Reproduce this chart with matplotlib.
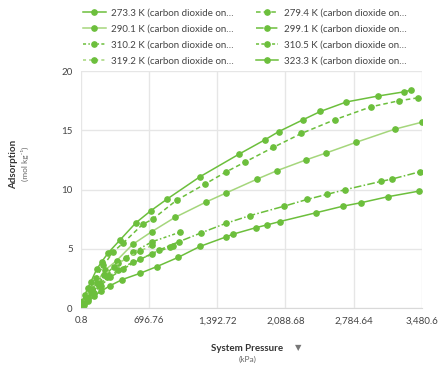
import numpy as np
import matplotlib.pyplot as plt

plt.rcParams['font.family'] = ['Lato', 'DejaVu Sans']

# series (pressure kPa, adsorption mol/kg)
labels = ['273.3 K (carbon dioxide on\u2026', '279.4 K (carbon dioxide on\u2026',
          '290.1 K (carbon dioxide on\u2026', '299.1 K (carbon dioxide on\u2026',
          '310.2 K (carbon dioxide on\u2026', '310.5 K (carbon dioxide on\u2026',
          '319.2 K (carbon dioxide on\u2026', '323.3 K (carbon dioxide on\u2026']

x_273 = [5, 20, 40, 70, 100, 160, 211, 279, 398, 561, 711, 874, 1214, 1615, 1877, 2020, 2268, 2445, 2710, 3033, 3295, 3373]
y_273 = [0.15, 0.6, 1.1, 1.7, 2.2, 3.26, 3.9, 4.67, 5.74, 7.2, 8.2, 9.17, 11.08, 13.0, 14.2, 14.9, 15.9, 16.6, 17.4, 17.9, 18.25, 18.4]

x_279 = [5, 25, 50, 90, 150, 230, 330, 432, 629, 731, 976, 1265, 1479, 1680, 1962, 2251, 2591, 2965, 3247, 3441]
y_279 = [0.12, 0.55, 1.0, 1.6, 2.5, 3.6, 4.75, 5.5, 7.06, 7.5, 9.1, 10.46, 11.48, 12.35, 13.56, 14.74, 15.9, 17.0, 17.5, 17.75]

x_290 = [5, 30, 60, 110, 170, 245, 364, 527, 721, 959, 1282, 1486, 1802, 2002, 2295, 2506, 2812, 3203, 3485]
y_290 = [0.1, 0.5, 0.9, 1.5, 2.3, 3.2, 4.0, 5.37, 6.44, 7.65, 8.97, 9.73, 10.9, 11.6, 12.5, 13.1, 14.0, 15.1, 15.7]

x_299 = [5, 30, 70, 130, 200, 300, 430, 600, 800, 1000, 1231, 1479, 1724, 2074, 2309, 2513, 2700, 3067, 3180, 3458]
y_299 = [0.08, 0.4, 0.8, 1.3, 1.9, 2.6, 3.3, 4.1, 4.9, 5.6, 6.36, 7.15, 7.8, 8.6, 9.17, 9.6, 10.0, 10.7, 10.9, 11.5]

x_310a = [5, 25, 60, 110, 180, 270, 380, 530, 727, 1010]
y_310a = [0.1, 0.5, 1.0, 1.6, 2.3, 3.0, 3.8, 4.7, 5.6, 6.4]

x_310b = [5, 25, 60, 110, 180, 270, 380, 534, 727, 908, 942]
y_310b = [0.08, 0.4, 0.8, 1.3, 1.9, 2.6, 3.2, 3.9, 4.55, 5.15, 5.25]

x_319 = [5, 20, 50, 100, 160, 240, 340, 460, 600, 727]
y_319 = [0.1, 0.45, 0.9, 1.5, 2.1, 2.8, 3.5, 4.2, 4.8, 5.3]

x_323 = [5, 30, 70, 130, 200, 300, 420, 602, 772, 993, 1214, 1479, 1554, 1792, 1904, 2030, 2397, 2675, 2863, 3134, 3450]
y_323 = [0.05, 0.3, 0.6, 1.0, 1.4, 1.9, 2.4, 2.93, 3.49, 4.28, 5.2, 6.0, 6.24, 6.8, 7.03, 7.3, 8.04, 8.6, 8.9, 9.4, 9.87]

xs = [x_273, x_279, x_290, x_299, x_310a, x_310b, x_319, x_323]
ys = [y_273, y_279, y_290, y_299, y_310a, y_310b, y_319, y_323]

xticks = [0.8, 696.76, 1392.72, 2088.68, 2784.64, 3480.6]
xticklabels = ['0.8', '696.76', '1,392.72', '2,088.68', '2,784.64', '3,480.6']
yticks = [0, 5, 10, 15, 20]

green = '#6cbf3c'
light = '#a5d67c'
styles = ['-', (0, (3, 2)), '-', (0, (5, 1.5, 1, 1.5)), (0, (2, 1.5, 1, 1.5)), (0, (2, 1.5)), (0, (2, 2)), '-']
colors = [green, green, light, green, green, green, light, green]

fig = plt.figure(figsize=(4.38, 3.65), dpi=100)
ax = fig.add_axes([0.185, 0.156, 0.778, 0.649])

for x, y, ls, c, lab in zip(xs, ys, styles, colors, labels):
    ax.plot(x, y, linestyle=ls, color=c, lw=1.1, marker='o', ms=3.8,
            markerfacecolor=green, markeredgecolor=green, label=lab)

ax.set_xlim(0.8, 3480.6)
ax.set_ylim(0, 20)
ax.set_xticks(xticks)
ax.set_xticklabels(xticklabels)
ax.set_yticks(yticks)
ax.tick_params(labelsize=7, colors='#444444', length=0, pad=6)
ax.grid(True, color='#e6e6e6', lw=1)
ax.set_axisbelow(True)
for s in ['top', 'right', 'left']:
    ax.spines[s].set_visible(False)
ax.spines['bottom'].set_color('#d9d9d9')

# axis titles
fig.text(0.565, 0.045, 'System Pressure', ha='center', va='center', fontsize=7, fontweight='bold', color='#333333')
fig.text(0.565, 0.015, '(kPa)', ha='center', va='center', fontsize=6, color='#666666')
fig.text(0.68, 0.047, '\u25bc', ha='center', va='center', fontsize=6, color='#777777')
fig.text(0.032, 0.55, 'Adsorption', ha='center', va='center', rotation=90, fontsize=7, fontweight='bold', color='#333333')
fig.text(0.058, 0.55, '(mol kg\u207b\u00b9)', ha='center', va='center', rotation=90, fontsize=6, color='#666666')

# legend filled row by row like the reference
h, l = ax.get_legend_handles_labels()
order = [0, 2, 4, 6, 1, 3, 5, 7]
fig.legend([h[i] for i in order], [l[i] for i in order], ncol=2, loc='upper left',
           bbox_to_anchor=(0.17, 1.0), frameon=False,
           fontsize=7, handlelength=2.3, columnspacing=2.2, labelspacing=0.72,
           handletextpad=0.6, labelcolor='#444444')

fig.savefig('out.png', dpi=100)
